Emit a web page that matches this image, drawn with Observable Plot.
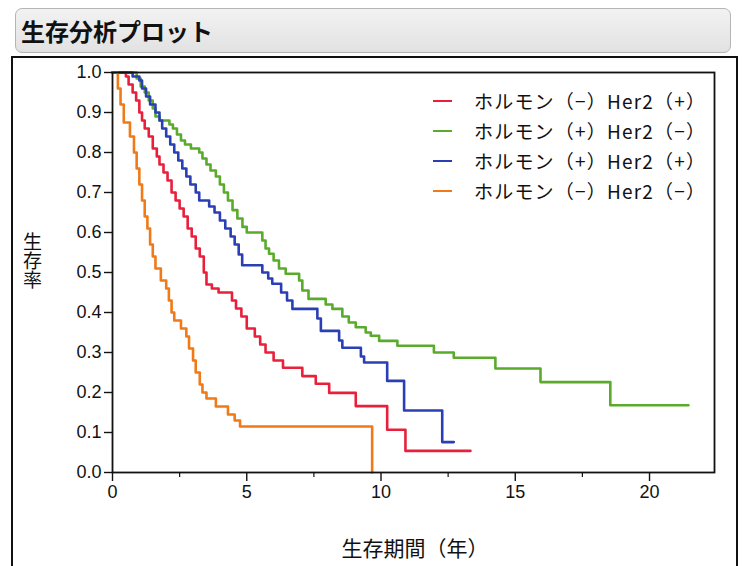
<!DOCTYPE html>
<html><head><meta charset="utf-8">
<script src="https://cdn.jsdelivr.net/npm/d3@7"></script>
<script src="https://cdn.jsdelivr.net/npm/@observablehq/plot@0.6"></script>
<style>
body{margin:0;background:#fff;width:742px;height:566px;overflow:hidden;position:relative;font-family:"Liberation Sans",Arial,sans-serif}
#titlebox{position:absolute;left:15px;top:8px;width:716px;height:45px;box-sizing:border-box;border:1.5px solid #b5b5b5;border-radius:7px;background:linear-gradient(#f2f2f2,#e2e2e2);}
#title{position:absolute;left:21px;top:8px;height:45px;line-height:45px;font-weight:bold;font-size:24px;font-family:"Noto Sans CJK JP";color:#111}
#panel{position:absolute;left:11px;top:56px;width:727px;height:530px;box-sizing:border-box;border:2px solid #111;}
#chart{position:absolute;left:0;top:0}
#chart svg text{font-size:18px !important;font-family:"Liberation Sans",Arial,sans-serif}
#ylab{position:absolute;left:23px;top:232px;writing-mode:vertical-rl;font-size:19px;font-family:"Noto Sans CJK JP";color:#111;line-height:19px}
#xlab{position:absolute;left:315px;width:200px;text-align:center;top:532px;font-size:21px;line-height:30px;font-family:"Noto Sans CJK JP";color:#111}
#legend{position:absolute;left:433px;top:86px;font-family:"Noto Sans CJK JP";font-size:19px;letter-spacing:1.2px;color:#111}
.row{height:30px;line-height:28px;display:flex;align-items:center;white-space:nowrap}
.sw{width:19px;height:2px;margin-right:22px}
</style></head>
<body>
<div id="titlebox"></div>
<div id="title">生存分析プロット</div>
<div id="panel"></div>
<div id="chart"></div>
<div id="ylab">生存率</div>
<div id="xlab">生存期間（年）</div>
<div id="legend"></div>
<script>
const groups = ["ホルモン（−）Her2（+）", "ホルモン（+）Her2（−）", "ホルモン（+）Her2（+）", "ホルモン（−）Her2（−）"];
const colors = ["#e8203c", "#5aab2c", "#2b3fb5", "#f07a18"];

// red: ホルモン(−)Her2(+)
const redT = [0,0.5,0.6,0.75,0.88,1.0,1.1,1.2,1.35,1.5,1.65,1.75,1.9,2.05,2.2,2.35,2.5,2.65,2.8,2.95,3.1,3.25,3.4,3.5,3.7,3.95,4.45,4.6,4.8,5.0,5.3,5.5,5.7,6.0,6.35,7.07,7.57,8.07,9.06,10.23,10.91,13.33];
const redS = [1.0,0.99,0.97,0.95,0.93,0.90,0.88,0.86,0.84,0.81,0.79,0.77,0.75,0.73,0.70,0.68,0.66,0.64,0.61,0.59,0.56,0.54,0.50,0.47,0.46,0.45,0.43,0.41,0.39,0.36,0.34,0.32,0.30,0.28,0.262,0.241,0.222,0.199,0.166,0.107,0.054,0.054];

// green: ホルモン(+)Her2(−)
const greenT = [0,0.9,1.05,1.2,1.35,1.5,1.6,1.75,2.12,2.25,2.4,2.55,2.7,2.92,3.23,3.35,3.5,3.65,3.85,4.0,4.15,4.3,4.47,4.65,4.84,5.0,5.58,5.7,5.83,6.0,6.2,6.45,6.95,7.07,7.3,7.94,8.19,8.56,8.8,9.06,9.43,9.62,9.93,10.61,11.97,12.71,14.26,15.94,18.54,21.45];
const greenS = [1.0,0.985,0.965,0.95,0.93,0.91,0.89,0.88,0.87,0.86,0.845,0.83,0.82,0.81,0.80,0.785,0.77,0.755,0.74,0.72,0.70,0.68,0.656,0.635,0.614,0.60,0.58,0.56,0.547,0.53,0.51,0.497,0.48,0.455,0.434,0.42,0.409,0.39,0.375,0.363,0.35,0.342,0.329,0.317,0.30,0.287,0.26,0.226,0.168,0.168];

// blue: ホルモン(+)Her2(+)
const blueT = [0,0.75,1.0,1.1,1.25,1.4,1.6,1.75,1.85,2.0,2.15,2.3,2.45,2.6,2.75,2.9,3.1,3.23,3.6,3.8,4.0,4.2,4.4,4.55,4.7,4.83,5.58,5.8,5.95,6.28,6.5,6.7,7.63,7.76,8.44,8.56,9.25,9.37,10.23,10.86,12.28,12.71];
const blueS = [1.0,0.99,0.98,0.96,0.94,0.92,0.90,0.88,0.86,0.84,0.82,0.80,0.78,0.76,0.74,0.72,0.70,0.68,0.665,0.65,0.63,0.61,0.59,0.57,0.545,0.518,0.50,0.485,0.472,0.45,0.43,0.409,0.385,0.354,0.33,0.312,0.29,0.275,0.229,0.155,0.076,0.076];

// orange: ホルモン(−)Her2(−)
const orangeT = [0,0.2,0.3,0.42,0.65,0.8,0.9,1.0,1.1,1.2,1.3,1.4,1.5,1.6,1.8,2.0,2.1,2.2,2.3,2.55,2.75,2.85,3.0,3.1,3.25,3.35,3.5,3.85,4.3,4.55,4.75,9.67];
const orangeS = [1.0,0.96,0.92,0.875,0.84,0.80,0.76,0.72,0.68,0.64,0.61,0.57,0.54,0.51,0.48,0.46,0.43,0.40,0.38,0.36,0.34,0.31,0.28,0.25,0.22,0.20,0.185,0.165,0.145,0.13,0.115,0.0];

const yTicks = [0,0.1,0.2,0.3,0.4,0.5,0.6,0.7,0.8,0.9,1.0];
const xTicks = [0,5,10,15,20];
const xMinorTicks = [2.5,7.5,12.5,17.5];

const seriesT = [redT, greenT, blueT, orangeT];
const seriesS = [redS, greenS, blueS, orangeS];
const rows = [];
groups.forEach((g, i) => seriesT[i].forEach((t, j) => rows.push({group: g, t, s: seriesS[i][j]})));

const chart = Plot.plot({
  width: 742, height: 566,
  marginLeft: 112, marginRight: 28, marginTop: 72, marginBottom: 94,
  style: {background: "transparent", fontSize: "18px", fontFamily: "'Liberation Sans', Arial, sans-serif", color: "#111"},
  x: {domain: [0, 22.42]},
  y: {domain: [0, 1]},
  color: {domain: groups, range: colors},
  marks: [
    Plot.line(rows, {x: "t", y: "s", z: "group", stroke: "group", strokeWidth: 2.6, curve: "step-after"}),
    Plot.frame({stroke: "#111", strokeWidth: 1.8}),
    Plot.axisY({ticks: yTicks, tickSize: 8, tickPadding: 3, fontSize: 18, tickFormat: d3.format(".1f"), label: null, stroke: "#111", strokeWidth: 1.4}),
    Plot.axisX({ticks: xTicks, tickSize: 9, tickPadding: 4, fontSize: 18, tickFormat: d3.format("d"), label: null, stroke: "#111", strokeWidth: 1.4}),
    Plot.axisX({ticks: xMinorTicks, tickSize: 5, tickFormat: () => "", label: null, stroke: "#111", strokeWidth: 1.2})
  ]
});
document.getElementById("chart").append(chart);

const legend = document.getElementById("legend");
groups.forEach((g, i) => {
  const r = document.createElement("div");
  r.className = "row";
  const sw = document.createElement("div");
  sw.className = "sw";
  sw.style.background = colors[i];
  const tx = document.createElement("span");
  tx.textContent = g;
  r.append(sw, tx);
  legend.append(r);
});
</script>
</body></html>
